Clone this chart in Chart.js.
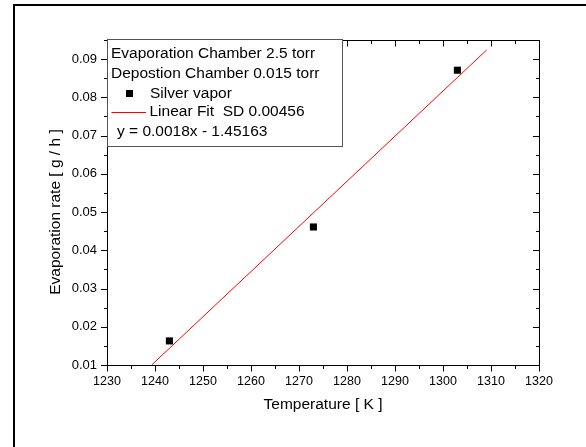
<!DOCTYPE html>
<html>
<head>
<meta charset="utf-8">
<script src="https://cdn.jsdelivr.net/npm/chart.js@4.4.1/dist/chart.umd.min.js"></script>
<style>
  html, body { margin: 0; padding: 0; background: #fff; }
  canvas { display: block; }
</style>
</head>
<body>
<canvas id="chart" width="586" height="447"></canvas>
<script>
// ============ DATA ============
const tempK = [1243, 1273, 1303];
const evapRate = [0.0163, 0.0461, 0.0871];

// fit line end points
const fitX = [1239.3, 1309.1];
const fitY = [0.0100, 0.0924];

const xTicks = [1230, 1240, 1250, 1260, 1270, 1280, 1290, 1300, 1310, 1320];
const xTickLabels = ["1230", "1240", "1250", "1260", "1270", "1280", "1290", "1300", "1310", "1320"];
const xMinor = [1235, 1245, 1255, 1265, 1275, 1285, 1295, 1305, 1315];
const yTicks = [0.01, 0.02, 0.03, 0.04, 0.05, 0.06, 0.07, 0.08, 0.09];
const yTickLabels = ["0.01", "0.02", "0.03", "0.04", "0.05", "0.06", "0.07", "0.08", "0.09"];
const yMinor = [0.015, 0.025, 0.035, 0.045, 0.055, 0.065, 0.075, 0.085, 0.095];

const legendLines = [
  "Evaporation Chamber 2.5 torr",
  "Depostion Chamber 0.015 torr",
  "Silver vapor",
  "Linear Fit  SD 0.00456",
  "y = 0.0018x - 1.45163"
];

const FONT = "'Liberation Sans', Arial, sans-serif";

function labelFor(ticks, labels, v) {
  const i = ticks.findIndex(t => Math.abs(t - v) < 1e-9);
  return i >= 0 ? labels[i] : "";
}

// ============ PLUGINS ============
const framePlugin = {
  id: "frame",
  beforeDraw(chart) {
    const ctx = chart.ctx;
    ctx.save();
    ctx.fillStyle = "#fff";
    ctx.fillRect(0, 0, chart.width, chart.height);
    ctx.fillStyle = "#000";
    ctx.fillRect(13, 4, chart.width - 13, 2);
    ctx.fillRect(13, 4, 2, chart.height - 4);
    ctx.restore();
  }
};

const axesPlugin = {
  id: "axesBox",
  afterDatasetsDraw(chart) {
    const ctx = chart.ctx;
    const xs = chart.scales.x, ys = chart.scales.y;
    const a = chart.chartArea;
    const L = Math.round(a.left) + 0.5, R = Math.round(a.right) + 0.5;
    const T = Math.round(a.top) + 0.5, B = Math.round(a.bottom) + 0.5;
    ctx.save();
    ctx.strokeStyle = "#000";
    ctx.lineWidth = 1;
    ctx.beginPath();
    ctx.rect(L, T, R - L, B - T);

    const tickX = (v, len) => {
      const px = Math.round(xs.getPixelForValue(v)) + 0.5;
      ctx.moveTo(px, B); ctx.lineTo(px, B + len);   // bottom, outward
      ctx.moveTo(px, T); ctx.lineTo(px, T + len);   // top, inward
    };
    const tickY = (v, len) => {
      const py = Math.round(ys.getPixelForValue(v)) + 0.5;
      ctx.moveTo(L, py); ctx.lineTo(L - len, py);   // left, outward
      ctx.moveTo(R, py); ctx.lineTo(R - len, py);   // right, inward
    };
    xTicks.forEach(v => tickX(v, 6));
    xMinor.forEach(v => tickX(v, 3.5));
    yTicks.forEach(v => tickY(v, 6.5));
    yMinor.forEach(v => tickY(v, 3.5));
    ctx.stroke();

    // y title
    ctx.fillStyle = "#000";
    ctx.font = "15.5px " + FONT;
    ctx.textAlign = "center";
    ctx.textBaseline = "middle";
    ctx.translate(55.5, 212);
    ctx.rotate(-Math.PI / 2);
    ctx.fillText("Evaporation rate [ g / h ]", 0, 0);
    ctx.restore();
  }
};

const legendPlugin = {
  id: "boxLegend",
  afterDraw(chart) {
    const ctx = chart.ctx;
    ctx.save();
    ctx.fillStyle = "#fff";
    ctx.fillRect(107, 39, 235, 107);
    ctx.strokeStyle = "#555";
    ctx.lineWidth = 1;
    ctx.strokeRect(107.5, 39.5, 235, 107);

    ctx.fillStyle = "#000";
    ctx.font = "15.5px " + FONT;
    ctx.textBaseline = "middle";
    ctx.textAlign = "left";
    ctx.fillText(legendLines[0], 111, 54);
    ctx.fillText(legendLines[1], 111, 74);
    // marker
    ctx.fillRect(126, 90, 7, 7);
    ctx.fillText(legendLines[2], 150, 93.5);
    // fit line sample
    ctx.strokeStyle = "#ff0000";
    ctx.beginPath();
    ctx.moveTo(111.5, 112.5); ctx.lineTo(146, 112.5);
    ctx.stroke();
    ctx.fillText(legendLines[3], 149.5, 112);
    ctx.fillText(legendLines[4], 117, 132);
    ctx.restore();
  }
};

// ============ CHART ============
new Chart(document.getElementById("chart"), {
  type: "scatter",
  data: {
    datasets: [
      {
        label: "Silver vapor",
        data: tempK.map((t, i) => ({ x: t, y: evapRate[i] })),
        pointStyle: "rect",
        pointRadius: 5,
        pointBorderWidth: 0,
        backgroundColor: "#000",
        borderColor: "#000"
      },
      {
        type: "line",
        label: "Linear Fit",
        data: fitX.map((x, i) => ({ x: x, y: fitY[i] })),
        borderColor: "#ff0000",
        borderWidth: 1,
        pointRadius: 0,
        fill: false
      }
    ]
  },
  options: {
    responsive: false,
    animation: false,
    devicePixelRatio: 1,
    layout: { padding: { left: 0, right: 47, top: 40, bottom: 0 } },
    plugins: {
      legend: { display: false },
      tooltip: { enabled: false }
    },
    scales: {
      x: {
        type: "linear",
        min: 1230,
        max: 1320,
        afterFit: s => { s.height = 82; },
        afterBuildTicks: s => { s.ticks = xTicks.map(v => ({ value: v })); },
        grid: { display: false, drawTicks: false },
        border: { display: false },
        ticks: {
          color: "#000",
          padding: 9,
          maxRotation: 0,
          font: { family: FONT, size: 12.5 },
          callback: v => labelFor(xTicks, xTickLabels, v)
        },
        title: {
          display: true,
          text: "Temperature [ K ]",
          color: "#000",
          padding: { top: 0, bottom: 33 },
          font: { family: FONT, size: 15.5 }
        }
      },
      y: {
        type: "linear",
        min: 0.01,
        max: 0.095,
        afterFit: s => { s.width = 107; },
        afterBuildTicks: s => { s.ticks = yTicks.map(v => ({ value: v })); },
        grid: { display: false, drawTicks: false },
        border: { display: false },
        ticks: {
          color: "#000",
          padding: 10,
          font: { family: FONT, size: 13 },
          callback: v => labelFor(yTicks, yTickLabels, v)
        }
      }
    }
  },
  plugins: [framePlugin, axesPlugin, legendPlugin]
});
</script>
</body>
</html>
